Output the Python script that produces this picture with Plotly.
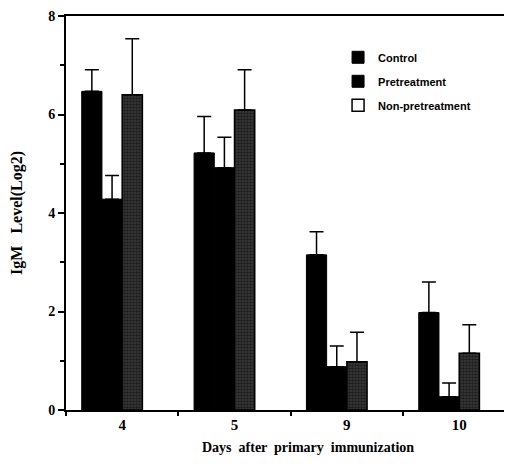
import plotly.graph_objects as go

days = ["4", "5", "9", "10"]
control = [6.47, 5.22, 3.15, 1.98]
control_err = [0.44, 0.74, 0.47, 0.62]
pretreat = [4.28, 4.92, 0.88, 0.27]
pretreat_err = [0.48, 0.62, 0.42, 0.28]
nonpre = [6.40, 6.09, 0.98, 1.15]
nonpre_err = [1.14, 0.82, 0.60, 0.58]

serif = "Liberation Serif"
sans = "Liberation Sans"

def err(vals):
    return dict(type="data", symmetric=False, array=vals, arrayminus=[0] * len(vals),
                color="black", thickness=1.5, width=7)

fig = go.Figure()
fig.add_trace(go.Bar(x=days, y=control, name="Control", error_y=err(control_err),
                     marker=dict(color="black", line=dict(color="black", width=1)),
                     legendgroup="a"))
fig.add_trace(go.Bar(x=days, y=pretreat, name="Pretreatment", error_y=err(pretreat_err),
                     marker=dict(color="black", line=dict(color="black", width=1)),
                     legendgroup="b"))
fig.add_trace(go.Bar(x=days, y=nonpre, name="Non-pretreatment", error_y=err(nonpre_err),
                     marker=dict(color="#1e1e1e", line=dict(color="black", width=1.5),
                                 pattern=dict(shape=".", fgcolor="#000000", bgcolor="#3c3c3c",
                                              size=3, solidity=0.6)),
                     showlegend=False, legendgroup="c"))
# legend entry for the non-pretreatment series (white box, as in the original)
fig.add_trace(go.Bar(x=[days[0]], y=[None], name="Non-pretreatment",
                     marker=dict(color="white", line=dict(color="black", width=1.5)),
                     legendgroup="c", showlegend=True, hoverinfo="skip"))

fig.update_layout(
    width=504, height=460,
    margin=dict(l=58, r=0, t=8, b=58),
    paper_bgcolor="white", plot_bgcolor="white",
    barmode="group", bargap=0.28, bargroupgap=0,
    showlegend=True,
    legend=dict(x=0.61, y=0.932, xanchor="left", yanchor="top",
                font=dict(family=sans, size=11, color="black", weight="bold"),
                bgcolor="rgba(0,0,0,0)", traceorder="grouped", tracegroupgap=5,
                itemclick=False),
    xaxis=dict(type="category", range=[-0.5, 3.47], showline=True, mirror=True,
               linecolor="black", linewidth=2, ticks="outside", tickson="boundaries",
               ticklen=4, tickcolor="black", tickwidth=1.5, showgrid=False, automargin=False,
               tickfont=dict(family=serif, size=15, color="black", weight="bold")),
    yaxis=dict(range=[0, 8], tickvals=[0, 2, 4, 6, 8], showline=True, linecolor="black",
               linewidth=2, ticks="outside", ticklen=6, tickcolor="black", tickwidth=1.5,
               showgrid=False, zeroline=False, automargin=False, ticklabeloverflow="allow",
               minor=dict(dtick=1, ticks="outside", ticklen=4, tickcolor="black", showgrid=False),
               tickfont=dict(family=serif, size=14, color="black", weight="bold")),
    annotations=[
        dict(text="Days  after  primary  immunization", xref="paper", yref="paper",
             x=0.5426, y=-0.0955, xanchor="center", yanchor="middle", showarrow=False,
             font=dict(family=serif, size=14, color="black", weight="bold")),
        dict(text="IgM   Level(Log2)", xref="paper", yref="paper", textangle=-90,
             x=-0.110, y=0.50, xanchor="center", yanchor="middle", showarrow=False,
             font=dict(family=serif, size=16, color="black", weight="bold")),
    ],
)

fig.write_html("out.html")
